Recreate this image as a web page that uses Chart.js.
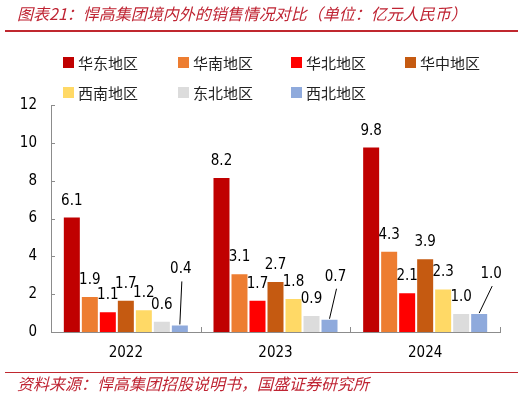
<!DOCTYPE html>
<html><head><meta charset="utf-8">
<script src="https://cdn.jsdelivr.net/npm/chart.js@4.4.0/dist/chart.umd.min.js"></script>
<style>html,body{margin:0;padding:0;background:#fff;overflow:hidden}#wrap{width:526px;height:398px;position:relative}</style>
</head><body><div id="wrap"><canvas id="c" width="526" height="398"></canvas></div>
<script>
const categories = ['2022', '2023', '2024'];
const regions = ['华东地区', '华南地区', '华北地区', '华中地区', '西南地区', '东北地区', '西北地区'];
const eastChina = [6.1, 8.2, 9.8];
const southChina = [1.9, 3.1, 4.3];
const northChina = [1.1, 1.7, 2.1];
const centralChina = [1.7, 2.7, 3.9];
const southwest = [1.2, 1.8, 2.3];
const northeast = [0.6, 0.9, 1.0];
const northwest = [0.4, 0.7, 1.0];
const yTicks = [0, 2, 4, 6, 8, 10, 12];
const titleText = '图表21：悍高集团境内外的销售情况对比（单位：亿元人民币）';
const sourceText = '资料来源：悍高集团招股说明书，国盛证券研究所';

const seriesValues = [eastChina, southChina, northChina, centralChina, southwest, northeast, northwest];
const colors = ['#C00000', '#ED7D31', '#FF0000', '#C55A11', '#FFD966', '#DCDCDC', '#8FAADC'];
const NUM_FONT = "'DejaVu Sans Condensed','DejaVu Sans',sans-serif";
const CJK_FONT = "'Noto Sans CJK SC','Noto Sans',sans-serif";
const RED = '#BF2433';

const datasets = regions.map((r, i) => ({
  label: r,
  data: seriesValues[i],
  backgroundColor: colors[i],
  borderColor: 'rgba(255,255,255,0.35)',
  borderWidth: 1,
  barPercentage: 1,
  categoryPercentage: 0.842
}));

const decor = {
  id: 'decor',
  afterDraw(chart, args, opts) {
    const ctx = chart.ctx;
    const xs = chart.scales.x, ys = chart.scales.y;
    ctx.save();
    // title
    ctx.fillStyle = RED;
    ctx.font = "italic 16px " + CJK_FONT;
    ctx.textBaseline = 'middle';
    ctx.textAlign = 'left';
    ctx.fillText(titleText, 17, 14);
    ctx.fillStyle = '#C0282F';
    ctx.fillRect(5, 30, 513, 2);
    // source
    ctx.fillRect(5, 372, 513, 1);
    ctx.fillStyle = RED;
    ctx.font = "italic 16px " + CJK_FONT;
    ctx.fillText(sourceText, 17, 384);
    // legend
    const colX = [63, 178, 291, 405];
    const rowY = [62, 92];
    ctx.font = "15px " + CJK_FONT;
    chart.data.datasets.forEach((ds, i) => {
      const cx = colX[i % 4], cy = rowY[Math.floor(i / 4)];
      ctx.fillStyle = ds.backgroundColor;
      ctx.fillRect(cx, cy - 5, 11, 11);
      ctx.fillStyle = '#222';
      ctx.fillText(ds.label, cx + 15, cy + 1);
    });
    // inside ticks
    ctx.strokeStyle = '#8C8C8C';
    ctx.lineWidth = 1;
    ctx.beginPath();
    ys.ticks.forEach(t => {
      const y = Math.round(ys.getPixelForValue(t.value)) + 0.5;
      ctx.moveTo(xs.left, y); ctx.lineTo(xs.left + 4, y);
    });
    const n = chart.data.labels.length;
    for (let i = 0; i <= n; i++) {
      const x = Math.round(xs.left + i * (xs.right - xs.left) / n) + 0.5;
      ctx.moveTo(x, ys.bottom); ctx.lineTo(x, ys.bottom - 5);
    }
    ctx.stroke();
    // data labels
    ctx.font = "15px " + NUM_FONT;
    ctx.textAlign = 'center';
    ctx.textBaseline = 'alphabetic';
    ctx.fillStyle = '#000';
    chart.data.datasets.forEach((ds, di) => {
      const meta = chart.getDatasetMeta(di);
      meta.data.forEach((bar, j) => {
        const txt = ds.data[j].toFixed(1);
        if (di === opts.leaderDataset) {
          const lx = bar.x + opts.leaderDx[j];
          const ly = bar.y - 12 - opts.leaderDy[j];
          ctx.fillText(txt, lx, ly);
          ctx.beginPath();
          ctx.strokeStyle = '#000';
          ctx.moveTo(lx + 1, ly + 8);
          ctx.lineTo(bar.x, bar.y);
          ctx.stroke();
        } else {
          ctx.fillText(txt, bar.x, bar.y - 12);
        }
      });
    });
    ctx.restore();
  }
};

new Chart(document.getElementById('c'), {
  type: 'bar',
  data: { labels: categories, datasets },
  options: {
    responsive: false,
    animation: false,
    devicePixelRatio: 1,
    layout: { padding: { top: 105, right: 26, left: 0, bottom: 0 } },
    plugins: {
      legend: { display: false },
      tooltip: { enabled: false },
      decor: { leaderDataset: 6, leaderDx: [1, 6, 12], leaderDy: [39, 26, 23] }
    },
    scales: {
      x: {
        grid: { display: false, drawTicks: false },
        border: { display: true, color: '#8C8C8C', width: 1 },
        ticks: { color: '#000', font: { family: NUM_FONT, size: 15 }, padding: 12 },
        afterFit(s) { s.height = 66; }
      },
      y: {
        min: 0, max: 12,
        grid: { display: false, drawTicks: false },
        border: { display: true, color: '#8C8C8C', width: 1 },
        ticks: { color: '#000', font: { family: NUM_FONT, size: 15 }, padding: 14 },
        afterBuildTicks(s) { s.ticks = yTicks.map(v => ({ value: v })); },
        afterFit(s) { s.width = 51; }
      }
    }
  },
  plugins: [decor]
});
</script>
</body></html>
